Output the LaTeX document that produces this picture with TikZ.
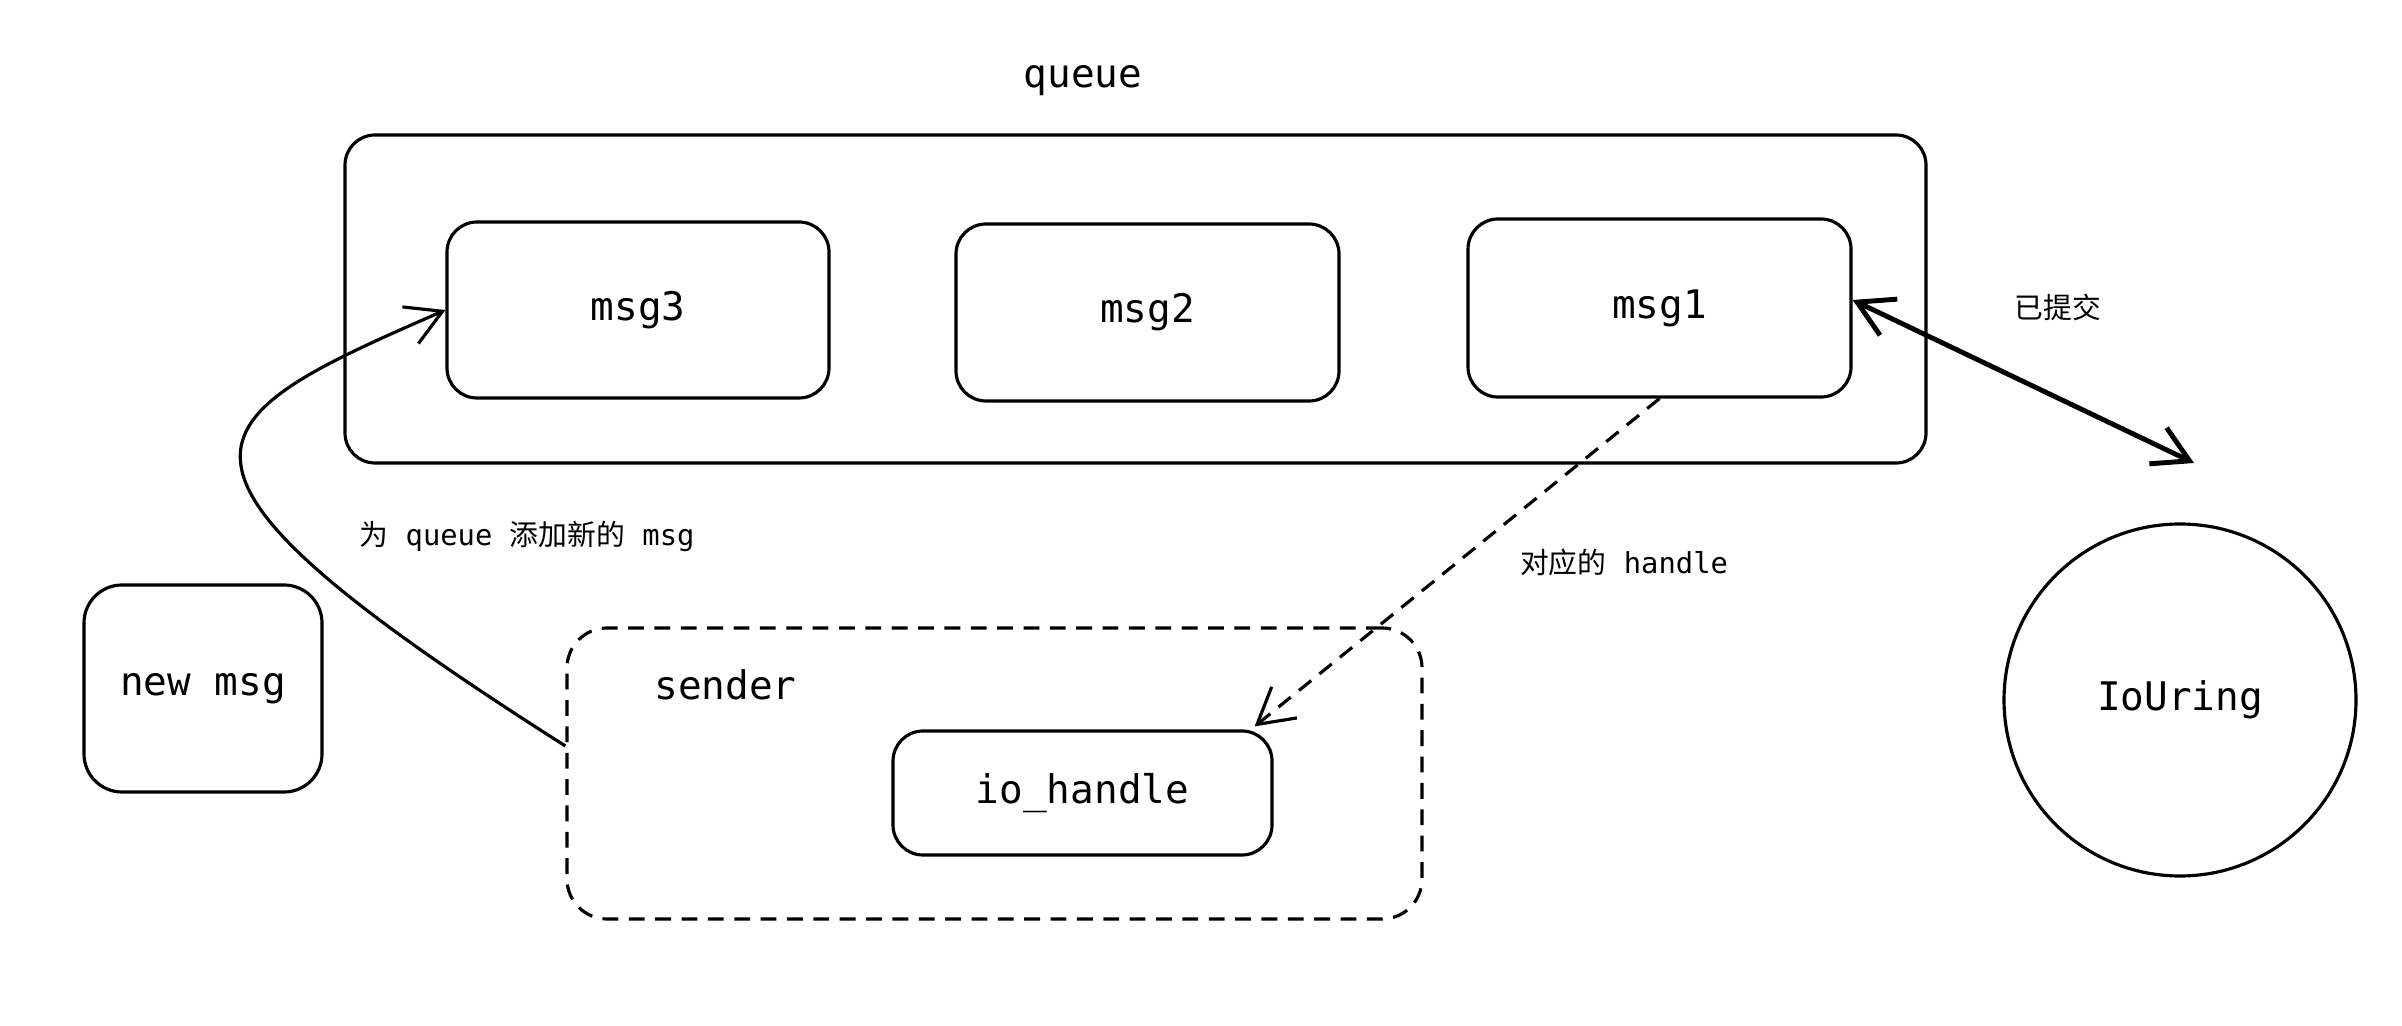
\documentclass[tikz,border=0pt]{standalone}
\usepackage{fontspec}
\setmainfont{DejaVu Sans Mono}
\newfontfamily\cjk{Noto Sans CJK SC}
\usetikzlibrary{arrows.meta}

\begin{document}
\begin{tikzpicture}[
    boxfont/.style={font=\fontsize{11.2}{13}\selectfont},
    box/.style={draw, line width=0.9pt, rounded corners=0.3cm, boxfont},
    note/.style={font=\fontsize{8.2}{10}\selectfont},
    barb/.style={-{Straight Barb[length=3.5mm,width=4mm]}},
    dashes/.style={dash pattern=on 4.5pt off 3pt},
  ]
  \useasboundingbox (0,0) rectangle (24.02,-10.26);

  % queue and its messages
  \node[box, minimum width=15.81cm, minimum height=3.28cm] (queue) at (11.355,-2.99) {};
  \node[boxfont] (queuelabel) at (10.83,-0.81) {queue};
  \node[box, minimum width=3.82cm, minimum height=1.76cm] (msg3) at (6.38,-3.10) {msg3};
  \node[box, minimum width=3.83cm, minimum height=1.77cm] (msg2) at (11.475,-3.125) {msg2};
  \node[box, minimum width=3.83cm, minimum height=1.78cm] (msg1) at (16.595,-3.08) {msg1};

  % new msg
  \node[box, rounded corners=0.38cm, minimum width=2.38cm, minimum height=2.07cm] (newmsg) at (2.03,-6.885) {new msg};

  % sender
  \node[box, dashes, rounded corners=0.4cm, minimum width=8.55cm, minimum height=2.91cm] (sender) at (9.945,-7.735) {};
  \node[boxfont, anchor=west] (senderlabel) at (6.42,-6.85) {sender};
  \node[box, minimum width=3.79cm, minimum height=1.24cm] (iohandle) at (10.825,-7.93) {io\_handle};

  % ring
  \node[draw, circle, line width=0.9pt, minimum size=3.52cm, boxfont] (iouring) at (21.8,-7.0) {IoUring};
  \coordinate (submit) at (21.94,-4.63);

  \draw[barb, line width=0.9pt] ([yshift=0.275cm]sender.west) .. controls (1.15,-4.60) and (1.91,-4.21) .. (msg3.west);
  \draw[barb, dashes, line width=0.9pt] (msg1.south) -- ([xshift=-0.19cm,yshift=0.03cm]iohandle.north east);
  \draw[{Straight Barb[length=3.5mm,width=4mm]}-{Straight Barb[length=3.5mm,width=4mm]}, line width=1.4pt] ([yshift=0.08cm]msg1.east) -- (submit);

  \node[note] (addlabel) at (5.27,-5.36) {{\cjk 为} queue {\cjk 添加新的} msg};
  \node[note] (handlelabel) at (16.24,-5.63) {{\cjk 对应的} handle};
  \node[note] (submitlabel) at (20.58,-3.07) {\cjk 已提交};
\end{tikzpicture}
\end{document}
